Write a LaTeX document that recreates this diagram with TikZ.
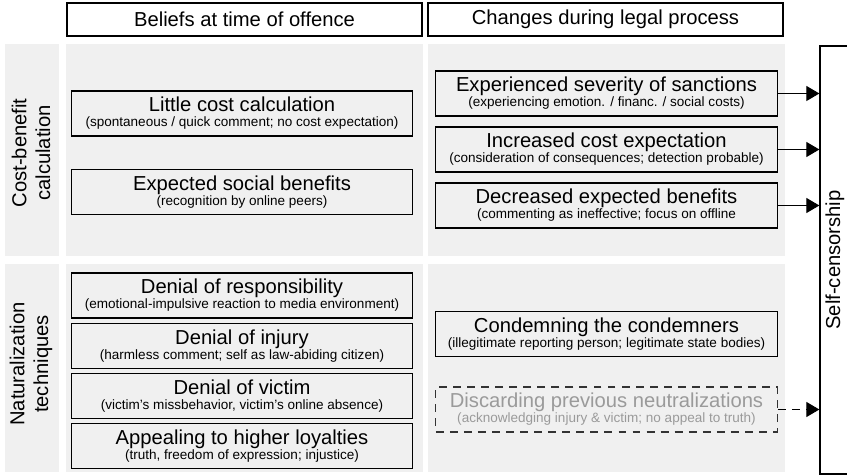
\documentclass[tikz,border=0pt]{standalone}
\usepackage{fontspec}
\setmainfont{Liberation Sans}
\usetikzlibrary{arrows.meta}
\definecolor{panelgray}{HTML}{F0F0F0}
\definecolor{fadedgray}{HTML}{9A9A9A}
\newcommand{\subline}[1]{{\fontsize{7.7}{8.5}\selectfont #1}}
\tikzset{
  headbox/.style={draw, line width=0.85pt, minimum width=7.1cm, minimum height=0.66cm, inner sep=0pt, font=\fontsize{11.5}{13}\selectfont},
  beliefbox/.style={draw, line width=0.8pt, minimum width=6.83cm, minimum height=0.9cm, inner sep=0pt, align=center, font=\fontsize{11.5}{8.5}\selectfont},
  droppedbox/.style={beliefbox, draw=black!80, dash pattern=on 4.5pt off 3.5pt, text=fadedgray},
  sidelabel/.style={rotate=90, align=center, font=\fontsize{11.5}{13.6}\selectfont},
  arr/.style={line width=0.6pt, -{Triangle[length=0.26cm, width=0.3cm]}}
}
\begin{document}
\begin{tikzpicture}[x=0.02cm, y=-0.02cm]
  \useasboundingbox (0,0) rectangle (847,475);
  \fill[panelgray] (5,44) rectangle (59,256);
  \fill[panelgray] (66,44) rectangle (423,256);
  \fill[panelgray] (428,44) rectangle (785,256);
  \fill[panelgray] (5,264) rectangle (59,472);
  \fill[panelgray] (66,264) rectangle (423,472);
  \fill[panelgray] (428,264) rectangle (785,472);

  \node[headbox] (beliefs) at (244.5,19.5) {Beliefs at time of offence};
  \node[headbox] (changes) at (605.5,19.5) {Changes during legal process};

  \node[sidelabel] (costlabel) at (31,153) {Cost-benefit\\calculation};
  \node[sidelabel] (neutlabel) at (31,364) {Naturalization\\techniques};

  \node[beliefbox] (little) at (242,113.5) {Little cost calculation\\\subline{(spontaneous / quick comment; no cost expectation)}};
  \node[beliefbox] (social) at (242,192) {Expected social benefits\\\subline{(recognition by online peers)}};
  \node[beliefbox] (resp) at (242,295.5) {Denial of responsibility\\\subline{(emotional-impulsive reaction to media environment)}};
  \node[beliefbox] (injury) at (242,346) {Denial of injury\\\subline{(harmless comment; self as law-abiding citizen)}};
  \node[beliefbox] (victim) at (242,396) {Denial of victim\\\subline{(victim’s missbehavior, victim’s online absence)}};
  \node[beliefbox] (loyal) at (242,446) {Appealing to higher loyalties\\\subline{(truth, freedom of expression; injustice)}};

  \node[beliefbox] (severity) at (606.5,93.5) {Experienced severity of sanctions\\\subline{(experiencing emotion. / financ. / social costs)}};
  \node[beliefbox] (costexp) at (606.5,149.5) {Increased cost expectation\\\subline{(consideration of consequences; detection probable)}};
  \node[beliefbox] (benefit) at (606.5,205.5) {Decreased expected benefits\\\subline{(commenting as ineffective; focus on offline}};
  \node[beliefbox] (condemn) at (606.5,334) {Condemning the condemners\\\subline{(illegitimate reporting person; legitimate state bodies)}};
  \node[droppedbox] (discard) at (606.5,409.5) {Discarding previous neutralizations\\\subline{(acknowledging injury \& victim; no appeal to truth)}};

  \node[draw, line width=0.75pt, minimum width=0.6cm, minimum height=8.56cm, inner sep=0pt, font=\fontsize{11.5}{13}\selectfont] (self) at (835,260) {\rotatebox{90}{Self-censorship}};

  \draw[arr] (severity.east) -- (severity.east -| self.west);
  \draw[arr] (costexp.east) -- (costexp.east -| self.west);
  \draw[arr] (benefit.east) -- (benefit.east -| self.west);
  \draw[arr, dash pattern=on 4.5pt off 3.5pt] (discard.east) -- (discard.east -| self.west);
\end{tikzpicture}
\end{document}
